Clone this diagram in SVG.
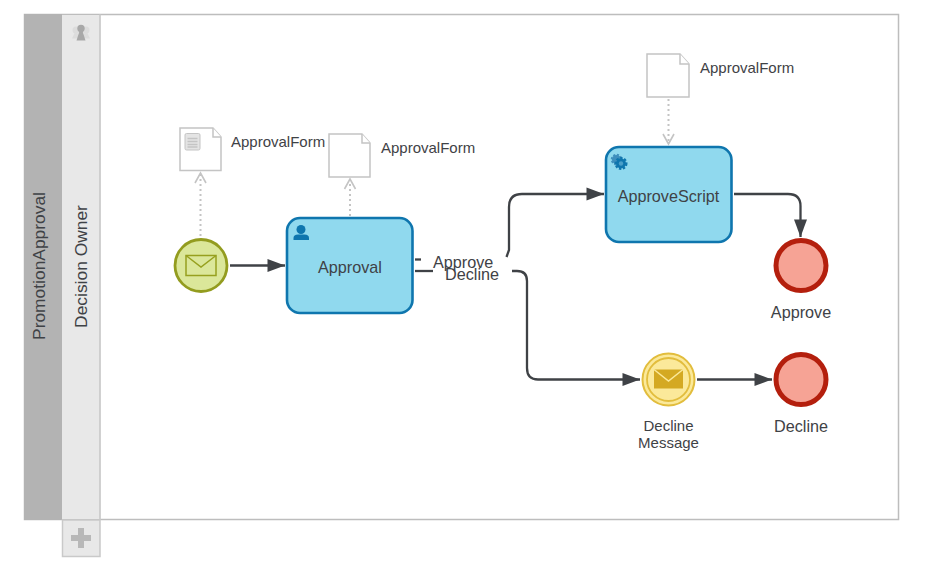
<svg xmlns="http://www.w3.org/2000/svg" width="929" height="565" viewBox="0 0 929 565">
<defs>
<marker id="arrow" markerUnits="userSpaceOnUse" markerWidth="20" markerHeight="14" refX="18" refY="7" orient="auto"><path d="M0.500 0.500L18 7L0.500 13.500Z" fill="#3f4246"/></marker>
</defs>
<style>
text{font-family:"Liberation Sans",Arial,sans-serif;fill:#3f4246;font-size:15px}
.m{text-anchor:middle}
.b{font-size:16.200px}
.r{font-size:17.400px}
.flow{fill:none;stroke:#3f4246;stroke-width:2.300}
.assoc{fill:none;stroke:#c4c4c4;stroke-width:2;stroke-dasharray:2 3}
.open{fill:none;stroke:#c4c4c4;stroke-width:1.600}
.task rect{fill:#90d9ee;stroke:#0f76ae;stroke-width:2.600}
.doc path{fill:#fff;stroke:#c4c4c4;stroke-width:1.500}
.end circle{fill:#f6a395;stroke:#b41f0d;stroke-width:5}
</style>
<g id="pool">
<rect x="24.500" y="14.500" width="874" height="505" fill="#fff" stroke="#bdbdbd" stroke-width="1.500"/>
<rect x="24" y="14" width="38" height="506" fill="#b3b3b3"/>
<text class="m r" transform="translate(45 266) rotate(-90)">PromotionApproval</text>
</g>
<g id="lane">
<rect x="62" y="15" width="38.500" height="504" fill="#e8e8e8"/>
<line x1="100" y1="14" x2="100" y2="520" stroke="#c6c6c6" stroke-width="1.500"/>
<text class="m r" transform="translate(87 266.500) rotate(-90)">Decision Owner</text>
<g id="lane-icon">
<circle cx="76" cy="30" r="3.500" fill="#dcdcdc"/><path d="M72 38.500L75 32H77L80 38.500Z" fill="#dcdcdc"/>
<circle cx="86" cy="30" r="3.500" fill="#dcdcdc"/><path d="M82 38.500L85 32H87L90 38.500Z" fill="#dcdcdc"/>
<circle cx="81" cy="28.500" r="3.700" fill="#a8a8a8"/><path d="M76.500 40.500L79.500 31H82.500L85.500 40.500Z" fill="#a8a8a8"/>
</g>
</g>
<g id="add-lane">
<rect x="62.500" y="520" width="37.500" height="36.500" fill="#e8e8e8" stroke="#c9c9c9" stroke-width="1.500"/>
<path d="M71 538H91M81 528V548" stroke="#b8b8b8" stroke-width="6" fill="none"/>
</g>
<g id="connectors">
<path class="flow" d="M230 265.500H285" marker-end="url(#arrow)"/>
<path class="flow" d="M415 259.500H421"/>
<path class="flow" d="M415 271H433"/>
<path class="flow" d="M506.500 257L509 250V207Q509 194 522 194H604" marker-end="url(#arrow)"/>
<path class="flow" d="M512 271H517Q527 271 527 281V368Q527 379.500 538 379.500H640" marker-end="url(#arrow)"/>
<path class="flow" d="M734 194H788Q800.500 194 800.500 206V237" marker-end="url(#arrow)"/>
<path class="flow" d="M697 379.500H772" marker-end="url(#arrow)"/>
<path class="assoc" d="M200.500 236V174"/>
<path class="open" d="M195 183L200.500 173L206 183"/>
<path class="assoc" d="M350 216V180"/>
<path class="open" d="M344.500 189L350 179L355.500 189"/>
<path class="assoc" d="M668.500 99V142"/>
<path class="open" d="M663 134L668.500 144L674 134"/>
</g>
<g id="start-event">
<circle cx="201" cy="265.500" r="26" fill="#dbe79a" stroke="#939c1f" stroke-width="2.800"/>
<rect x="186" y="255.500" width="30" height="20" fill="none" stroke="#97a01f" stroke-width="1.500"/>
<path d="M186 255.500L201 267L216 255.500" fill="none" stroke="#97a01f" stroke-width="1.500"/>
</g>
<g id="doc-start" class="doc">
<path d="M180 128H213L221 137V170.500H180Z"/><path d="M213 128V137H221"/>
<rect x="185" y="133.500" width="15" height="16.500" rx="1.500" fill="#e4e4e4" stroke="#c4c4c4"/>
<path d="M187.500 138.500H197.500M187.500 141.500H197.500M187.500 144.500H197.500M187.500 147H197.500" stroke="#b5b5b5" stroke-width="1" fill="none"/>
<text x="231" y="147">ApprovalForm</text>
</g>
<g id="doc-approval" class="doc">
<path d="M329 134H362L370 143V177H329Z"/><path d="M362 134V143H370"/>
<text x="381" y="153">ApprovalForm</text>
</g>
<g id="doc-script" class="doc">
<path d="M647 54H680L689 64V97H647Z"/><path d="M680 54V64H689"/>
<text x="700" y="73">ApprovalForm</text>
</g>
<g id="task-approval" class="task">
<rect x="287" y="218" width="125.500" height="95" rx="13"/>
<circle cx="301" cy="229.500" r="4.500" fill="#0f76ae"/><path d="M293.500 240V238Q293.500 234.500 298 234.500H304.500Q309 234.500 309 238V240Z" fill="#0f76ae"/>
<text class="m b" x="350" y="273">Approval</text>
</g>
<g id="task-script" class="task">
<rect x="606" y="147" width="125.500" height="95" rx="13"/>
<circle cx="616.500" cy="159.500" r="4.500" fill="#3f8fbd" stroke="#3f8fbd" stroke-width="2.500" stroke-dasharray="2 1.500"/>
<circle cx="621" cy="163.500" r="5" fill="#0f76ae" stroke="#0f76ae" stroke-width="3" stroke-dasharray="2.200 1.500"/>
<circle cx="621" cy="163.500" r="2.200" fill="#4a9fc9"/>
<text class="m b" x="668.500" y="202">ApproveScript</text>
</g>
<g id="labels">
<text class="b" x="433" y="267.500">Approve</text>
<text class="b" x="445" y="279.500">Decline</text>
</g>
<g id="end-approve" class="end">
<circle cx="801" cy="265.500" r="25"/>
<text class="b m" x="801" y="318">Approve</text>
</g>
<g id="message-event">
<circle cx="668.500" cy="379.500" r="26" fill="#fbe99a" stroke="#e2bd3d" stroke-width="2"/>
<circle cx="668.500" cy="379.500" r="21.500" fill="none" stroke="#e2bd3d" stroke-width="1.800"/>
<rect x="654" y="369.500" width="29" height="19" fill="#d4a922"/>
<path d="M654 369.500L668.500 381L683 369.500" fill="none" stroke="#fbe99a" stroke-width="1.500"/>
<text class="m" x="668.500" y="431">Decline</text>
<text class="m" x="668.500" y="448">Message</text>
</g>
<g id="end-decline" class="end">
<circle cx="801" cy="379.500" r="25"/>
<text class="b m" x="801" y="432">Decline</text>
</g>
</svg>
